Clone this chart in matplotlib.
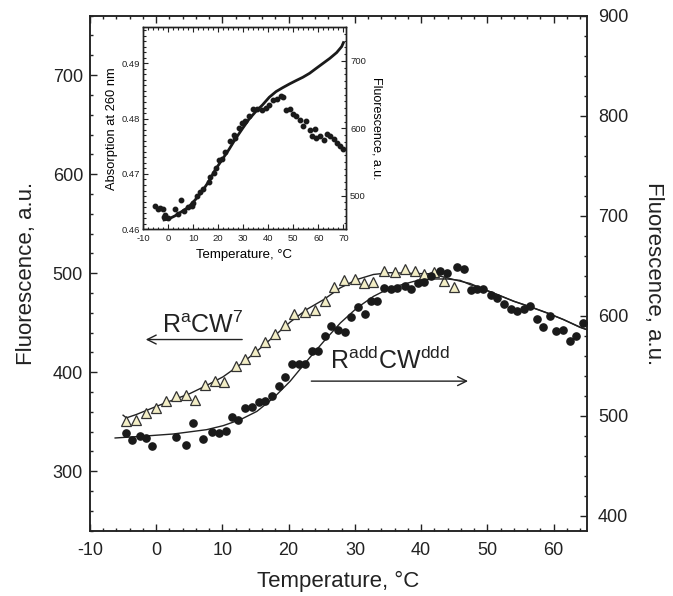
import matplotlib
matplotlib.use("Agg")
import matplotlib.pyplot as plt
from matplotlib.ticker import MultipleLocator

plt.rcParams['font.family'] = ['Liberation Sans', 'DejaVu Sans']
plt.rcParams['mathtext.default'] = 'regular'
plt.rcParams['axes.unicode_minus'] = False

# ---------------- main chart data ----------------
# R^aCW^7 (triangles, left axis)
tri_t = [-4.6, -3.1, -1.5, -0.1, 1.5, 3.0, 4.5, 5.9, 7.4, 8.9, 10.3, 12.0, 13.4, 14.9,
         16.4, 17.9, 19.4, 20.8, 22.4, 24.0, 25.5, 26.9, 28.4, 30.0, 31.4, 32.8, 34.4,
         36.0, 37.5, 39.0, 40.5, 42.0, 43.5, 45.0]
tri_f = [350.5, 351.5, 359, 363.6, 370.7, 375.8, 376.8, 372.4, 386.6, 391.6, 390.3, 406,
         413.8, 421.9, 430.3, 438.8, 447.2, 459, 460.6, 463.3, 472.4, 485.9, 493.6, 494.3,
         489.6, 490.9, 502, 501, 504.4, 501.7, 498.7, 501.4, 492.3, 485.9]
tri_fit_t = [-5.0, -4.5, -3.0, 0.1, 3.1, 5.1, 7.6, 10.1, 12.7, 15.2, 17.7, 20.2, 22.7, 25.3,
             27.8, 30.3, 32.8, 35.3, 38.9, 41.4, 43.9, 45.9, 47.4, 48.9, 51.5, 54.0, 56.5,
             59.0, 61.5, 64.0, 65.0]
tri_fit_f = [356.6, 353.9, 357.3, 365.7, 373.4, 378.5, 386.6, 395.4, 407.8, 421.2, 435.8,
             450.5, 463.3, 473.4, 485.2, 493.6, 498.7, 500.5, 499.7, 499.4, 495.3, 491.9,
             489.6, 485.3, 478.5, 471.7, 466.1, 460.0, 453.2, 445.5, 443.1]

# R^addCW^ddd (dots, right axis)
dot_t = [-4.6, -3.6, -2.4, -1.5, -0.6, 3.0, 4.5, 5.5, 7.0, 8.4, 9.5, 10.5, 11.4, 12.4,
         13.4, 14.4, 15.5, 16.5, 17.5, 18.6, 19.5, 20.5, 21.5, 22.5, 23.5, 24.5, 25.5,
         26.4, 27.5, 28.5, 29.4, 30.5, 31.5, 32.5, 33.4, 34.4, 35.4, 36.4, 37.5, 38.5,
         39.5, 40.5, 41.5, 42.9, 43.9, 45.4, 46.5, 47.5, 48.5, 49.4, 50.5, 51.5, 52.5,
         53.5, 54.5, 55.5, 56.5, 57.5, 58.4, 59.4, 60.4, 61.4, 62.4, 63.4, 64.5]
dot_f = [482.6, 476, 479.3, 477.6, 469.3, 478.7, 470.3, 492.7, 476.7, 483.3, 482.6, 485,
         498.2, 495.3, 507.6, 508.6, 513.2, 514.2, 519.2, 529.9, 538.6, 551.6, 551.6, 551.6,
         564.2, 564.2, 579.2, 589.9, 585.2, 583.2, 598.2, 608.6, 601.6, 614.2, 614.2, 627.6,
         627, 627.6, 629.2, 626.5, 632.6, 633.2, 639.2, 644.2, 642.6, 648.6, 646.6, 625.9,
         626.9, 626.9, 620.9, 617.6, 611.6, 606.9, 604.2, 606.6, 609.2, 596.6, 588.2, 600,
         584.2, 585.9, 574.9, 579.9, 592.6]
dot_fit_t = [-6.2, -2.4, 2.6, 7.6, 10.1, 12.7, 15.2, 17.7, 20.2, 22.7, 25.3, 27.8, 30.3,
             32.8, 35.3, 38.9, 41.4, 43.9, 45.9, 47.4, 48.9, 51.5, 54.0, 56.5, 59.0, 61.5,
             64.0, 65.0]
dot_fit_f = [477.7, 479.3, 481.7, 486, 490, 496, 504.3, 517.7, 534.3, 554.3, 574.3, 592.7,
             607.7, 619.3, 627.7, 634.3, 636.7, 636.7, 635.3, 631, 627.7, 621, 614.3, 608.7,
             602.7, 596, 588.3, 586]

# ---------------- inset data ----------------
abs_t = [-1.6, 0.0, 2.7, 5.4, 8.1, 10.8, 13.5, 16.2, 18.8, 21.5, 24.2, 26.9, 29.6, 32.3,
         35.0, 37.7, 40.4, 43.1, 45.8, 48.5, 51.1, 53.8, 56.5, 59.2, 61.9, 64.6, 67.3,
         69.3, 70.0]
abs_a = [0.46169, 0.46181, 0.46241, 0.46319, 0.46398, 0.4653, 0.4668, 0.46861, 0.47072,
         0.47253, 0.47434, 0.47633, 0.47813, 0.47988, 0.48127, 0.48247, 0.48386, 0.48488,
         0.4856, 0.48627, 0.48687, 0.48747, 0.48819, 0.4891, 0.49, 0.4909, 0.49193,
         0.49301, 0.49373]
ins_t = [-5.4, -4.0, -3.1, -2.0, -1.6, -1.1, 0.0, 2.7, 4.0, 5.0, 6.5, 8.1, 9.4, 10.1, 11.4,
         12.8, 14.1, 16.2, 16.8, 18.2, 19.1, 20.2, 21.5, 22.9, 24.9, 26.2, 26.9, 28.3, 29.6,
         30.7, 32.3, 33.9, 35.7, 37.3, 39.0, 40.4, 42.0, 43.3, 45.1, 46.0, 47.1, 48.5, 49.8,
         51.1, 52.5, 53.8, 55.2, 56.5, 57.6, 58.5, 59.2, 60.6, 62.2, 63.3, 64.6, 66.2, 67.3,
         68.6, 69.7]
ins_f = [484.3, 479.4, 481.4, 480.4, 468.1, 471.6, 467.2, 480.4, 472.5, 494.1, 477.5, 482.8,
         485.3, 488.7, 500, 504.9, 509.8, 519.6, 527, 533.3, 541.7, 552.9, 553.9, 564.7,
         580.4, 590.7, 585.8, 600.5, 607.8, 610.3, 617.6, 628.4, 628.4, 626.5, 629.9, 634.8,
         642.2, 643.6, 648, 647.1, 627.5, 628.4, 621.6, 617.6, 612.7, 603.9, 610.3, 598,
         589.2, 599.5, 585.8, 588.2, 582.4, 591.7, 588.2, 584.3, 578.4, 573.5, 568.6]

# ---------------- figure ----------------
fig = plt.figure(figsize=(6.73, 5.96), dpi=100)
ax = fig.add_axes([0.1337, 0.1096, 0.7381, 0.8641])
ax2 = ax.twinx()

ax.set_xlim(-10, 65)
ax.set_ylim(240, 760)
ax2.set_ylim(385, 900)

col = '#222222'
for a in (ax, ax2):
    for s in a.spines.values():
        s.set_linewidth(1.1)
        s.set_color(col)

ax.xaxis.set_major_locator(MultipleLocator(10))
ax.xaxis.set_minor_locator(MultipleLocator(2))
ax.yaxis.set_major_locator(MultipleLocator(100))
ax.yaxis.set_minor_locator(MultipleLocator(20))
ax2.yaxis.set_major_locator(MultipleLocator(100))
ax2.yaxis.set_minor_locator(MultipleLocator(20))

ax.tick_params(which='both', direction='in', top=True, right=False, colors=col,
               labelcolor='#222222', width=1.0)
ax.tick_params(which='major', length=5, labelsize=13)
ax.tick_params(which='minor', length=2.5)
ax.tick_params(axis='x', which='major', pad=8)
ax.tick_params(axis='y', which='major', pad=5)
ax2.tick_params(which='both', direction='in', colors=col, width=1.0)
ax2.tick_params(which='major', length=5, labelsize=13, pad=8)
ax2.tick_params(which='minor', length=2.5)
ax.set_yticks([300, 400, 500, 600, 700])
ax2.set_yticks([400, 500, 600, 700, 800, 900])

ax.set_xlabel('Temperature, \u00b0C', fontsize=16, labelpad=9, color='#222222')
ax.set_ylabel('Fluorescence, a.u.', fontsize=16, labelpad=11, color='#222222')
ax2.set_ylabel('Fluorescence, a.u.', fontsize=16, rotation=-90, labelpad=26, color='#222222')

# fits and data
ax.plot(tri_fit_t, tri_fit_f, color='#222222', lw=1.0, zorder=2)
ax.plot(tri_t, tri_f, linestyle='none', marker='^', markersize=7,
        markerfacecolor='#f3eec6', markeredgecolor='#333333', markeredgewidth=0.9, zorder=3)
ax2.plot(dot_fit_t, dot_fit_f, color='#222222', lw=1.0, zorder=2)
ax2.plot(dot_t, dot_f, linestyle='none', marker='o', markersize=5.2,
         markerfacecolor='#1a1a1a', markeredgecolor='#1a1a1a', zorder=3)

# annotations
ax.text(0.8, 440, r'R$^{a}$CW$^{7}$', fontsize=18, color='#222222', va='baseline')
ax.annotate('', xy=(-2.0, 433), xytext=(13.4, 433),
            arrowprops=dict(arrowstyle='->', color='#222222', lw=1.0, mutation_scale=16))
ax.text(26.3, 403, r'R$^{add}$CW$^{ddd}$', fontsize=18, color='#222222', va='baseline')
ax.annotate('', xy=(47.5, 391), xytext=(23.0, 391),
            arrowprops=dict(arrowstyle='->', color='#222222', lw=1.0, mutation_scale=16))

# ---------------- inset ----------------
ins = fig.add_axes([0.2125, 0.6153, 0.3015, 0.3389])
ins2 = ins.twinx()
ins.set_xlim(-10, 71)
ins.set_ylim(0.46, 0.4965)
ins2.set_ylim(450, 750)
for a in (ins, ins2):
    for s in a.spines.values():
        s.set_linewidth(1.0)
        s.set_color(col)
ins.xaxis.set_major_locator(MultipleLocator(10))
ins.xaxis.set_minor_locator(MultipleLocator(2))
ins.yaxis.set_major_locator(MultipleLocator(0.01))
ins.yaxis.set_minor_locator(MultipleLocator(0.001))
ins2.yaxis.set_major_locator(MultipleLocator(100))
ins2.yaxis.set_minor_locator(MultipleLocator(10))
ins.tick_params(which='both', direction='in', top=True, right=False, colors=col, width=0.8)
ins.tick_params(which='major', length=3.5, labelsize=6.8, pad=2)
ins.tick_params(axis='x', which='major', pad=3.5)
ins.tick_params(which='minor', length=1.8)
ins2.tick_params(which='both', direction='in', colors=col, width=0.8)
ins2.tick_params(which='major', length=3.5, labelsize=6.8, pad=3)
ins2.tick_params(which='minor', length=1.8)
ins.set_yticks([0.46, 0.47, 0.48, 0.49])
ins.set_yticklabels(['0.46', '0.47', '0.48', '0.49'])
ins2.set_yticks([500, 600, 700])
ins.set_xlabel('Temperature, \u00b0C', fontsize=9.5, labelpad=4)
ins.set_ylabel('Absorption at 260 nm', fontsize=9.3, labelpad=3)
ins2.set_ylabel('Fluorescence, a.u.', fontsize=9, rotation=-90, labelpad=12)

ins.plot(abs_t, abs_a, color='#1a1a1a', lw=2.0, zorder=3)
ins2.plot(ins_t, ins_f, linestyle='none', marker='o', markersize=3.2,
          color='#1a1a1a', zorder=3)

fig.savefig('out.png', dpi=100)
